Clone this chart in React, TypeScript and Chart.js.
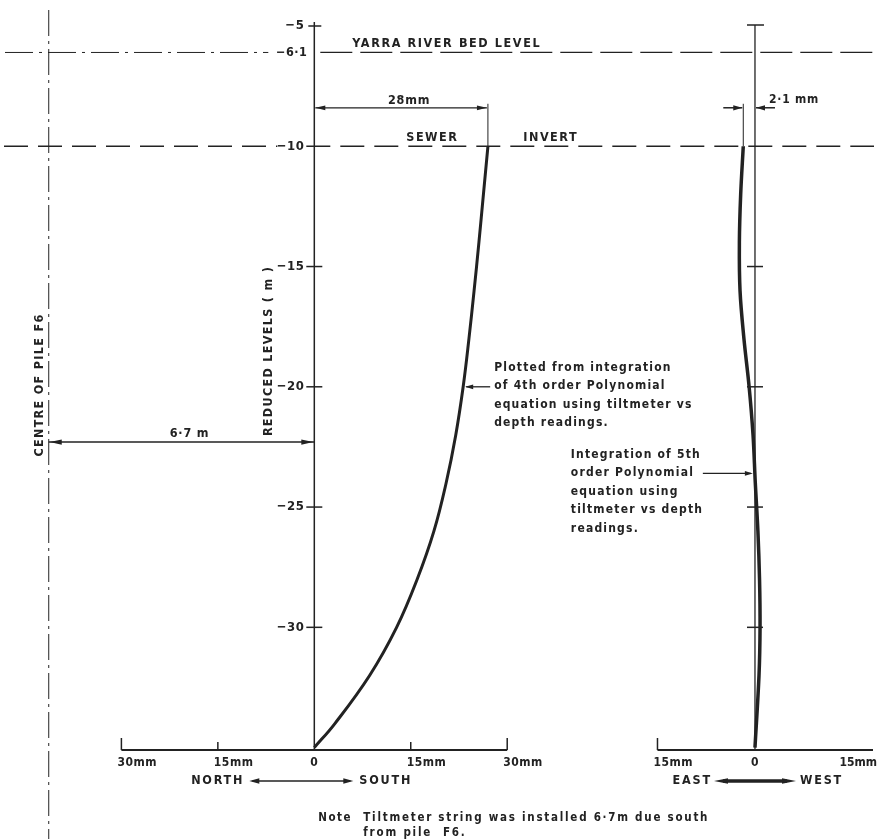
import React, { useEffect, useRef } from 'react';
import { Chart, registerables } from 'chart.js';

Chart.register(...registerables);

// ---------------- data ----------------
// North–South deflection profile (reduced level in m, displacement in mm, + = south)
const NS_LEVELS = [-10, -12, -14, -16, -18, -20, -22, -24, -26, -28, -30, -32, -34, -35];
const NS_DISP = [27.0, 26.3, 25.6, 24.85, 24.05, 23.15, 22.0, 20.5, 18.6, 16.0, 12.8, 8.6, 3.2, 0];

// East–West deflection profile (+ = west, - = east)
const EW_LEVELS = [-10, -12, -14, -16, -18, -20, -22, -24, -26, -28, -30, -32, -35];
const EW_DISP = [-1.8, -2.2, -2.4, -2.3, -1.7, -0.9, -0.3, 0.05, 0.45, 0.7, 0.78, 0.62, 0];

const LEVEL_TICKS = [-5, -10, -15, -20, -25, -30];
const LEVEL_TICK_LABELS = ['\u22125', '\u221210', '\u221215', '\u221220', '\u221225', '\u221230'];
const RIVER_BED_LEVEL = -6.1;
const RIVER_BED_LABEL = '\u22126\u00b71';
const SEWER_INVERT_LEVEL = -10;
const NS_TICKS = [-30, -15, 0, 15, 30];
const NS_TICK_LABELS = ['30mm', '15mm', '0', '15mm', '30mm'];
const EW_TICKS = [-15, 0, 15];
const EW_TICK_LABELS = ['15mm', '0', '15mm'];
const NS_MAX_LABEL = '28mm';
const EW_MAX_LABEL = '2\u00b71 mm';
const PILE_OFFSET_LABEL = '6\u00b77 m';

// ---------------- layout ----------------
const W = 879;
const H = 839;
const Y_MIN = -35.1;
const Y_MAX = -5;
const NS_AXIS_MIN = -48.88;
const NS_AXIS_MAX = 87.82;
const EW_AXIS_MIN = -116.15;
const EW_AXIS_MAX = 19.08;
const PILE_X = -41.3; // pile centre line drawn in N-S axis units
const DIM_LEVEL = -8.4;
const PILE_DIM_LEVEL = -22.3;
const NS_NOTE_LEVEL = -20;
const EW_NOTE_LEVEL = -23.6;

const INK = '#222222';
const FONT = '"DejaVu Sans Condensed", "Liberation Sans Narrow", "DejaVu Sans", sans-serif';

function interp(levels: number[], values: number[], level: number) {
  for (let i = 0; i < levels.length - 1; i++) {
    const a = levels[i];
    const b = levels[i + 1];
    if (level <= a && level >= b) {
      const t = (level - a) / (b - a);
      return values[i] + t * (values[i + 1] - values[i]);
    }
  }
  return values[values.length - 1];
}

function seg(ctx: any, x1: number, y1: number, x2: number, y2: number, w = 1.2, dash: number[] = []) {
  ctx.save();
  ctx.strokeStyle = INK;
  ctx.lineWidth = w;
  ctx.lineCap = 'butt';
  ctx.setLineDash(dash);
  ctx.beginPath();
  ctx.moveTo(x1, y1);
  ctx.lineTo(x2, y2);
  ctx.stroke();
  ctx.restore();
}

function head(ctx: any, tx: number, ty: number, ang: number, len = 8, half = 2.6) {
  ctx.save();
  ctx.fillStyle = INK;
  ctx.beginPath();
  ctx.moveTo(tx, ty);
  ctx.lineTo(tx - len * Math.cos(ang) + half * Math.sin(ang), ty - len * Math.sin(ang) - half * Math.cos(ang));
  ctx.lineTo(tx - len * Math.cos(ang) - half * Math.sin(ang), ty - len * Math.sin(ang) + half * Math.cos(ang));
  ctx.closePath();
  ctx.fill();
  ctx.restore();
}

function text(ctx: any, s: string, x: number, y: number, align = 'left', size = 12.5, spacing = 1, rot = 0) {
  ctx.save();
  ctx.fillStyle = INK;
  ctx.font = `bold ${size}px ${FONT}`;
  ctx.textBaseline = 'middle';
  ctx.textAlign = align;
  try {
    ctx.letterSpacing = `${spacing}px`;
  } catch (e) {}
  if (rot) {
    ctx.translate(x, y);
    ctx.rotate(rot);
    ctx.fillText(s, 0, 0);
  } else {
    ctx.fillText(s, x, y);
  }
  ctx.restore();
}

const drawingPlugin = {
  id: 'drawing',
  beforeDatasetsDraw(chart: any) {
    const ctx = chart.ctx;
    const X = (v: number) => chart.scales.x.getPixelForValue(v);
    const X2 = (v: number) => chart.scales.x2.getPixelForValue(v);
    const Y = (v: number) => chart.scales.y.getPixelForValue(v);
    const bottom = chart.chartArea.bottom;
    const x0 = X(0);
    const e0 = X2(0);

    // pile centre line
    seg(ctx, X(PILE_X), 10, X(PILE_X), H, 1, [26, 5, 3, 5]);

    // river bed level
    const yr = Y(RIVER_BED_LEVEL);
    seg(ctx, 5, yr, x0 - 46, yr, 1, [28, 6, 3, 6]);
    seg(ctx, x0 + 6, yr, W - 5, yr, 1.2, [32, 8]);

    // sewer invert
    const ys = Y(SEWER_INVERT_LEVEL);
    seg(ctx, 4, ys, x0 - 37, ys, 1.3, [24, 10]);
    seg(ctx, x0 - 8, ys, W - 5, ys, 1.3, [24, 10]);

    // left (level) axis
    seg(ctx, x0, Y(Y_MAX) - 4, x0, bottom, 1.5);
    LEVEL_TICKS.forEach((t) => {
      if (t === SEWER_INVERT_LEVEL) return;
      const y = Y(t);
      if (t === Y_MAX) seg(ctx, x0 - 6, y, x0 + 7, y, 1.5);
      else seg(ctx, x0 - 8, y, x0 + 8, y, 1.5);
    });

    // right (E-W) axis
    seg(ctx, e0, Y(Y_MAX) - 1, e0, bottom, 1.3);
    seg(ctx, e0 - 8, Y(Y_MAX) - 1, e0 + 9, Y(Y_MAX) - 1, 1.5);
    LEVEL_TICKS.forEach((t) => {
      if (t === Y_MAX || t === SEWER_INVERT_LEVEL) return;
      seg(ctx, e0 - 8, Y(t), e0 + 8, Y(t), 1.5);
    });

    // bottom N-S axis
    seg(ctx, X(NS_TICKS[0]), bottom, X(NS_TICKS[NS_TICKS.length - 1]), bottom, 2);
    NS_TICKS.forEach((t) => {
      if (t === 0) return;
      const h = Math.abs(t) === 30 ? 12 : 8;
      seg(ctx, X(t), bottom, X(t), bottom - h, 1.5);
    });

    // bottom E-W axis
    seg(ctx, X2(EW_TICKS[0]), bottom, W - 6, bottom, 2);
    seg(ctx, X2(EW_TICKS[0]), bottom, X2(EW_TICKS[0]), bottom - 12, 1.5);

    // 28mm dimension
    const yd = Y(DIM_LEVEL);
    const xe = X(NS_DISP[0]);
    seg(ctx, x0 + 1, yd, xe - 1, yd, 1.3);
    head(ctx, x0 + 1, yd, Math.PI, 10, 2.4);
    head(ctx, xe - 1, yd, 0, 10, 2.4);
    seg(ctx, xe, yd - 4, xe, ys, 1);

    // 2.1mm dimension
    const xe2 = X2(EW_DISP[0]);
    seg(ctx, xe2, yd - 4, xe2, ys, 1);
    seg(ctx, xe2 - 20, yd, xe2 - 1, yd, 1.5);
    head(ctx, xe2 - 1, yd, 0, 9, 2.6);
    seg(ctx, e0 + 20, yd, e0 + 1, yd, 1.5);
    head(ctx, e0 + 1, yd, Math.PI, 9, 2.6);

    // 6.7 m dimension
    const yp = Y(PILE_DIM_LEVEL);
    seg(ctx, X(PILE_X), yp, x0, yp, 1.5);
    head(ctx, X(PILE_X) + 1, yp, Math.PI, 12, 2.6);
    head(ctx, x0 - 1, yp, 0, 12, 2.6);
  },
  afterDatasetsDraw(chart: any) {
    const ctx = chart.ctx;
    const X = (v: number) => chart.scales.x.getPixelForValue(v);
    const X2 = (v: number) => chart.scales.x2.getPixelForValue(v);
    const Y = (v: number) => chart.scales.y.getPixelForValue(v);
    const bottom = chart.chartArea.bottom;
    const x0 = X(0);
    const e0 = X2(0);

    // level labels
    LEVEL_TICKS.forEach((t, i) => {
      text(ctx, LEVEL_TICK_LABELS[i], x0 - 10, Y(t), 'right', 13, 0.5);
    });
    text(ctx, RIVER_BED_LABEL, x0 - 7, Y(RIVER_BED_LEVEL), 'right', 12.5, 0.5);

    text(ctx, 'YARRA RIVER BED LEVEL', x0 + 38, Y(RIVER_BED_LEVEL) - 9, 'left', 12.5, 1.6);
    text(ctx, 'SEWER', x0 + 92, Y(SEWER_INVERT_LEVEL) - 9, 'left', 12.5, 1.5);
    text(ctx, 'INVERT', x0 + 209, Y(SEWER_INVERT_LEVEL) - 9, 'left', 12.5, 1.5);

    const yd = Y(DIM_LEVEL);
    text(ctx, NS_MAX_LABEL, (x0 + X(NS_DISP[0])) / 2 + 8, yd - 7, 'center', 12.5, 0.8);
    text(ctx, EW_MAX_LABEL, e0 + 14, yd - 8, 'left', 12, 0.8);

    const yp = Y(PILE_DIM_LEVEL);
    text(ctx, PILE_OFFSET_LABEL, (X(PILE_X) + x0) / 2 + 8, yp - 8, 'center', 12.5, 0.8);

    text(ctx, 'CENTRE OF PILE F6', X(PILE_X) - 9, 385, 'center', 12.5, 1.3, -Math.PI / 2);
    text(ctx, 'REDUCED LEVELS ( m )', x0 - 46, 351, 'center', 12.5, 1.3, -Math.PI / 2);

    // N-S annotation
    const yn = Y(NS_NOTE_LEVEL);
    const xn = X(interp(NS_LEVELS, NS_DISP, NS_NOTE_LEVEL));
    seg(ctx, xn + 27, yn, xn + 3, yn, 1.3);
    head(ctx, xn + 2, yn, Math.PI, 8, 2.4);
    const nsNote = ['Plotted from integration', 'of 4th order Polynomial', 'equation using tiltmeter vs', 'depth readings.'];
    nsNote.forEach((s, i) => text(ctx, s, xn + 31, yn - 19 + i * 18.3, 'left', 12, 1.2));

    // E-W annotation
    const yw = Y(EW_NOTE_LEVEL);
    const xw = X2(interp(EW_LEVELS, EW_DISP, EW_NOTE_LEVEL));
    seg(ctx, xw - 52, yw, xw - 4, yw, 1.3);
    head(ctx, xw - 2, yw, 0, 8, 2.4);
    const ewNote = ['Integration of 5th', 'order Polynomial', 'equation using', 'tiltmeter vs depth', 'readings.'];
    ewNote.forEach((s, i) => text(ctx, s, xw - 184, yw - 19 + i * 18.5, 'left', 12, 1.2));

    // bottom tick labels
    const yl = bottom + 13;
    NS_TICKS.forEach((t, i) => {
      if (t === 0) text(ctx, NS_TICK_LABELS[i], X(t), yl, 'center', 12, 0.5);
      else text(ctx, NS_TICK_LABELS[i], X(t) - 4, yl, 'left', 12, 0.5);
    });
    EW_TICKS.forEach((t, i) => {
      if (t === 0) text(ctx, EW_TICK_LABELS[i], X2(t), yl, 'center', 12, 0.5);
      else if (t > 0) text(ctx, EW_TICK_LABELS[i], W - 2, yl, 'right', 12, 0);
      else text(ctx, EW_TICK_LABELS[i], X2(t) - 4, yl, 'left', 12, 0.5);
    });

    // direction arrows
    const ya = bottom + 31;
    text(ctx, 'NORTH', x0 - 70, ya, 'right', 12.5, 1.8);
    seg(ctx, x0 - 62, ya, x0 + 36, ya, 1.5);
    head(ctx, x0 - 65, ya, Math.PI, 10, 2.8);
    head(ctx, x0 + 39, ya, 0, 10, 2.8);
    text(ctx, 'SOUTH', x0 + 45, ya, 'left', 12.5, 1.8);

    text(ctx, 'EAST', e0 - 43, ya, 'right', 12.5, 1.8);
    seg(ctx, e0 - 32, ya, e0 + 32, ya, 3.5);
    head(ctx, e0 - 41, ya, Math.PI, 14, 2.8);
    head(ctx, e0 + 41, ya, 0, 14, 2.8);
    text(ctx, 'WEST', e0 + 45, ya, 'left', 12.5, 1.8);

    // note
    text(ctx, 'Note', x0 + 4, bottom + 68, 'left', 11.5, 1.5);
    text(ctx, 'Tiltmeter string was installed 6\u00b77m due south', x0 + 49, bottom + 68, 'left', 11.5, 1.75);
    text(ctx, 'from pile  F6.', x0 + 49, bottom + 83, 'left', 11.5, 1.8);
  },
};

export default function App() {
  const ref = useRef<HTMLCanvasElement>(null);

  useEffect(() => {
    document.body.style.margin = '0';
    const canvas = ref.current;
    if (!canvas) return;
    const chart = new Chart(canvas, {
      type: 'scatter',
      data: {
        datasets: [
          {
            label: 'North-South',
            data: NS_LEVELS.map((l, i) => ({ x: NS_DISP[i], y: l })),
            xAxisID: 'x',
            yAxisID: 'y',
            showLine: true,
            borderColor: INK,
            backgroundColor: INK,
            borderWidth: 3,
            pointRadius: 0,
            tension: 0.4,
            fill: false,
          },
          {
            label: 'East-West',
            data: EW_LEVELS.map((l, i) => ({ x: EW_DISP[i], y: l })),
            xAxisID: 'x2',
            yAxisID: 'y',
            showLine: true,
            borderColor: INK,
            backgroundColor: INK,
            borderWidth: 3.5,
            pointRadius: 0,
            tension: 0.35,
            fill: false,
          },
        ],
      },
      options: {
        animation: false,
        responsive: false,
        events: [],
        layout: { padding: { left: 0, right: 0, top: 26, bottom: 89 } },
        plugins: {
          legend: { display: false },
          tooltip: { enabled: false },
          title: { display: false },
        },
        scales: {
          x: { type: 'linear', min: NS_AXIS_MIN, max: NS_AXIS_MAX, display: false },
          x2: { type: 'linear', min: EW_AXIS_MIN, max: EW_AXIS_MAX, display: false },
          y: { type: 'linear', min: Y_MIN, max: Y_MAX, display: false },
        },
      },
      plugins: [drawingPlugin],
    } as any);
    return () => chart.destroy();
  }, []);

  return (
    <div style={{ width: W, height: H, background: '#fff' }}>
      <canvas ref={ref} width={W} height={H} style={{ display: 'block' }} />
    </div>
  );
}
